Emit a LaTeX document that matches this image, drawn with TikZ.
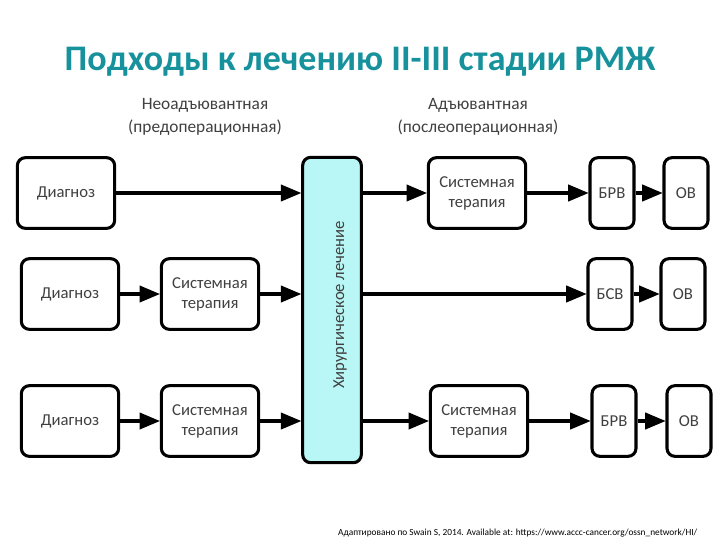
\documentclass[tikz,border=0pt]{standalone}
\usepackage{fontspec}
\setmainfont{Carlito}
\usetikzlibrary{arrows}
\definecolor{titleteal}{HTML}{17929C}
\definecolor{barcyan}{HTML}{B8F7F5}
\definecolor{textgray}{HTML}{404040}
\begin{document}
\begin{tikzpicture}[x=0.75pt,y=-0.75pt]
	\tikzstyle{stage}=[draw,line width=2.3pt,rounded corners=6pt,fill=white,text=textgray,align=center,font=\fontsize{12.5}{15}\selectfont,minimum height=53pt,inner sep=1pt]
	\tikzstyle{wide stage}=[stage,minimum width=73pt]
	\tikzstyle{narrow stage}=[stage,minimum width=33pt]
	\tikzstyle{flow}=[draw,line width=2.6pt,-triangle 45,black]
	\useasboundingbox (0,0) rectangle (720,540);
	
	\node[font=\bfseries\fontsize{27}{30}\selectfont,text=titleteal] (title) at (360,62) {Подходы к лечению II-III стадии РМЖ};
	\node[align=center,text=textgray,font=\fontsize{13}{17}\selectfont] (neo) at (205,117) {Неоадъювантная\\(предоперационная)};
	\node[align=center,text=textgray,font=\fontsize{13}{17}\selectfont] (adj) at (478,117) {Адъювантная\\(послеоперационная)};
	
	\node[draw,line width=2.3pt,rounded corners=6pt,fill=barcyan,minimum width=44pt,minimum height=229pt] (surgery) at (332,310) {};
	\node[rotate=90,text=textgray,font=\fontsize{12.5}{15}\selectfont] (surgerytext) at (340,305) {Хирургическое лечение};
	
	\node[wide stage] (diag1) at (66,193) {Диагноз};
	\node[wide stage] (sys1) at (477,193) {Системная\\терапия};
	\node[narrow stage] (brv1) at (612,193) {БРВ};
	\node[narrow stage] (ov1) at (686,193) {ОВ};
	
	\node[wide stage] (diag2) at (70,294) {Диагноз};
	\node[wide stage] (sys2) at (210,294) {Системная\\терапия};
	\node[narrow stage] (bsv2) at (610,294) {БСВ};
	\node[narrow stage] (ov2) at (683,294) {ОВ};
	
	\node[wide stage] (diag3) at (70,421) {Диагноз};
	\node[wide stage] (sys3a) at (210,421) {Системная\\терапия};
	\node[wide stage] (sys3b) at (479,421) {Системная\\терапия};
	\node[narrow stage] (brv3) at (614,421) {БРВ};
	\node[narrow stage] (ov3) at (689,421) {ОВ};
	
	\draw[flow] (diag1) -- (diag1 -| surgery.west);
	\draw[flow] (surgery.east |- sys1) -- (sys1);
	\draw[flow] (sys1) -- (brv1);
	\draw[flow] (brv1) -- (ov1);
	
	\draw[flow] (diag2) -- (sys2);
	\draw[flow] (sys2) -- (sys2 -| surgery.west);
	\draw[flow] (surgery.east |- bsv2) -- (bsv2);
	\draw[flow] (bsv2) -- (ov2);
	
	\draw[flow] (diag3) -- (sys3a);
	\draw[flow] (sys3a) -- (sys3a -| surgery.west);
	\draw[flow] (surgery.east |- sys3b) -- (sys3b);
	\draw[flow] (sys3b) -- (brv3);
	\draw[flow] (brv3) -- (ov3);
	
	\node[anchor=east,font=\fontsize{7}{8}\selectfont] (source) at (702,533) {Адаптировано по Swain S, 2014. Available at: https://www.accc-cancer.org/ossn\_network/HI/};
\end{tikzpicture}
\end{document}
